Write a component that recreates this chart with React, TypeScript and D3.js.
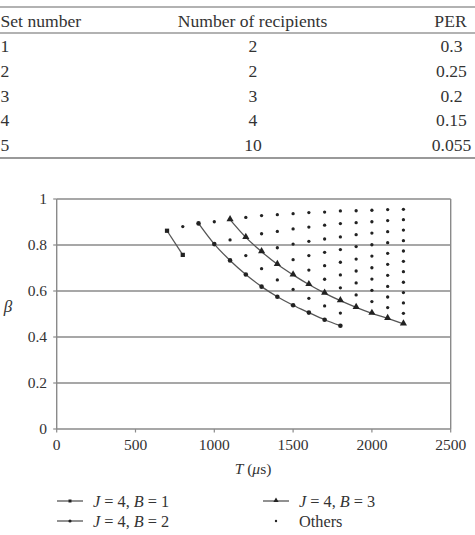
import React from "react";
import * as d3 from "d3";

// ---- Table data ----
const tableHeaders = ["Set number", "Number of recipients", "PER"];
const setNumbers = ["1", "2", "3", "4", "5"];
const recipients = ["2", "2", "3", "4", "10"];
const perValues = ["0.3", "0.25", "0.2", "0.15", "0.055"];

// ---- Chart data ----
const xTicks = [0, 500, 1000, 1500, 2000, 2500];
const yTicks = [0, 0.2, 0.4, 0.6, 0.8, 1];
const yTickLabels = ["0", "0.2", "0.4", "0.6", "0.8", "1"];

const b1T = [700, 800];
const b1Beta = [0.862, 0.757];

const b2T = [900, 1000, 1100, 1200, 1300, 1400, 1500, 1600, 1700, 1800];
const b2Beta = [0.894, 0.804, 0.733, 0.672, 0.619, 0.575, 0.538, 0.506, 0.475, 0.449];

const b3T = [1100, 1200, 1300, 1400, 1500, 1600, 1700, 1800, 1900, 2000, 2100, 2200];
const b3Beta = [0.91, 0.833, 0.771, 0.716, 0.67, 0.628, 0.591, 0.558, 0.529, 0.503, 0.481, 0.457];

const othersT = [800, 1000, 1100, 1200, 1300, 1400, 1500, 1600, 1700, 1800, 1900, 2000, 2100, 2200];
const othersBeta = [
  [0.88],
  [0.901],
  [0.822],
  [0.92, 0.754],
  [0.928, 0.849, 0.697],
  [0.932, 0.859, 0.788, 0.648],
  [0.936, 0.87, 0.804, 0.736, 0.607],
  [0.941, 0.878, 0.816, 0.754, 0.691, 0.568],
  [0.943, 0.886, 0.826, 0.768, 0.71, 0.651, 0.535],
  [0.948, 0.893, 0.835, 0.78, 0.725, 0.67, 0.614, 0.504],
  [0.949, 0.897, 0.845, 0.793, 0.739, 0.687, 0.635, 0.583],
  [0.951, 0.901, 0.852, 0.801, 0.752, 0.701, 0.652, 0.603, 0.554],
  [0.954, 0.906, 0.858, 0.81, 0.764, 0.716, 0.668, 0.62, 0.574, 0.528],
  [0.955, 0.91, 0.865, 0.819, 0.774, 0.729, 0.684, 0.638, 0.593, 0.548, 0.503],
];

const W = 475;
const H = 535;
const FONT = "'Liberation Serif', 'Times New Roman', serif";
const TEXT = "#333";
const RULE = "#999";
const GRID = "#8a8a8a";

export default function App() {
  const x = d3.scaleLinear().domain([0, 2500]).range([56.7, 450.7]);
  const y = d3.scaleLinear().domain([0, 1]).range([429, 199]);

  const line = d3
    .line<[number, number]>()
    .x((d) => x(d[0]))
    .y((d) => y(d[1]))
    .curve(d3.curveMonotoneX);

  const b1 = b1T.map((t, i) => [t, b1Beta[i]] as [number, number]);
  const b2 = b2T.map((t, i) => [t, b2Beta[i]] as [number, number]);
  const b3 = b3T.map((t, i) => [t, b3Beta[i]] as [number, number]);
  const others: [number, number][] = [];
  othersT.forEach((t, i) => othersBeta[i].forEach((b) => others.push([t, b])));

  const sq = d3.symbol(d3.symbolSquare, 18)() as string;
  const tri = d3.symbol(d3.symbolTriangle, 22)() as string;
  const sqL = d3.symbol(d3.symbolSquare, 9)() as string;
  const triL = d3.symbol(d3.symbolTriangle, 12)() as string;

  const rowBase = (i: number) => 51.8 + i * 24.85;

  return (
    <svg
      width={W}
      height={H}
      style={{ position: "absolute", left: 0, top: 0, background: "#fff" }}
      fontFamily={FONT}
    >
      {/* ---- Table ---- */}
      <line x1={0} x2={W} y1={7} y2={7} stroke={RULE} strokeWidth={1.6} />
      <line x1={0} x2={W} y1={33} y2={33} stroke={RULE} strokeWidth={1.4} />
      <line x1={0} x2={W} y1={158} y2={158} stroke={RULE} strokeWidth={1.8} />
      <g fontSize={17.6} fill={TEXT}>
        <text x={0.5} y={26.5}>{tableHeaders[0]}</text>
        <text x={252.5} y={26.5} textAnchor="middle">{tableHeaders[1]}</text>
        <text x={450.5} y={26.5} textAnchor="middle">{tableHeaders[2]}</text>
        {setNumbers.map((s, i) => (
          <text key={"s" + i} x={0.5} y={rowBase(i)}>{s}</text>
        ))}
        {recipients.map((s, i) => (
          <text key={"r" + i} x={253} y={rowBase(i)} textAnchor="middle">{s}</text>
        ))}
        {perValues.map((s, i) => (
          <text key={"p" + i} x={451.5} y={rowBase(i)} textAnchor="middle">{s}</text>
        ))}
      </g>

      {/* ---- Chart ---- */}
      {yTicks.map((t) => (
        <line key={"g" + t} x1={x(0)} x2={x(2500)} y1={y(t)} y2={y(t)} stroke={GRID} strokeWidth={1.4} />
      ))}
      <line x1={x(0)} x2={x(0)} y1={y(1)} y2={y(0)} stroke={GRID} strokeWidth={1.4} />
      <line x1={x(2500)} x2={x(2500)} y1={y(1)} y2={y(0)} stroke={GRID} strokeWidth={1.4} />
      {yTicks.map((t) => (
        <line key={"yt" + t} x1={x(0) - 3.5} x2={x(0)} y1={y(t)} y2={y(t)} stroke={GRID} strokeWidth={1.2} />
      ))}
      {xTicks.map((t) => (
        <line key={"xt" + t} x1={x(t)} x2={x(t)} y1={y(0)} y2={y(0) + 3.5} stroke={GRID} strokeWidth={1.2} />
      ))}
      <g fontSize={15.5} fill={TEXT}>
        {yTicks.map((t, i) => (
          <text key={"yl" + t} x={47} y={y(t) + 5} textAnchor="end">{yTickLabels[i]}</text>
        ))}
        {xTicks.map((t) => (
          <text key={"xl" + t} x={x(t)} y={449.5} textAnchor="middle">{String(t)}</text>
        ))}
        <text x={253} y={473.5} textAnchor="middle">
          <tspan fontStyle="italic">T</tspan>
          <tspan> (</tspan>
          <tspan fontStyle="italic">μ</tspan>
          <tspan>s)</tspan>
        </text>
        <text x={8} y={312} textAnchor="middle" fontStyle="italic" fontSize={17}>β</text>
      </g>

      {/* series lines */}
      <path d={line(b1) as string} fill="none" stroke="#555" strokeWidth={1.3} />
      <path d={line(b2) as string} fill="none" stroke="#555" strokeWidth={1.3} />
      <path d={line(b3) as string} fill="none" stroke="#555" strokeWidth={1.3} />

      {others.map((d, i) => (
        <circle key={"o" + i} cx={x(d[0])} cy={y(d[1])} r={1.65} fill="#222" />
      ))}
      {b1.map((d, i) => (
        <path key={"m1" + i} d={sq} transform={`translate(${x(d[0])},${y(d[1])})`} fill="#222" />
      ))}
      {b2.map((d, i) => (
        <circle key={"m2" + i} cx={x(d[0])} cy={y(d[1])} r={2.3} fill="#222" />
      ))}
      {b3.map((d, i) => (
        <path key={"m3" + i} d={tri} transform={`translate(${x(d[0])},${y(d[1]) - 0.5})`} fill="#222" />
      ))}

      {/* ---- Legend ---- */}
      <g fontSize={16.3} fill={TEXT}>
        <line x1={57} x2={83} y1={501} y2={501} stroke="#555" strokeWidth={1.3} />
        <path d={sqL} transform="translate(70,501)" fill="#222" />
        <text x={93} y={506.5}>
          <tspan fontStyle="italic">J</tspan>
          <tspan> = 4, </tspan>
          <tspan fontStyle="italic">B</tspan>
          <tspan> = 1</tspan>
        </text>

        <line x1={57} x2={83} y1={521} y2={521} stroke="#555" strokeWidth={1.3} />
        <circle cx={70} cy={521} r={1.6} fill="#222" />
        <text x={93} y={526.5}>
          <tspan fontStyle="italic">J</tspan>
          <tspan> = 4, </tspan>
          <tspan fontStyle="italic">B</tspan>
          <tspan> = 2</tspan>
        </text>

        <line x1={263} x2={289} y1={501} y2={501} stroke="#555" strokeWidth={1.3} />
        <path d={triL} transform="translate(276,500.5)" fill="#222" />
        <text x={299} y={506.5}>
          <tspan fontStyle="italic">J</tspan>
          <tspan> = 4, </tspan>
          <tspan fontStyle="italic">B</tspan>
          <tspan> = 3</tspan>
        </text>

        <circle cx={276} cy={521} r={1.2} fill="#222" />
        <text x={299} y={526.5}>Others</text>
      </g>
    </svg>
  );
}
